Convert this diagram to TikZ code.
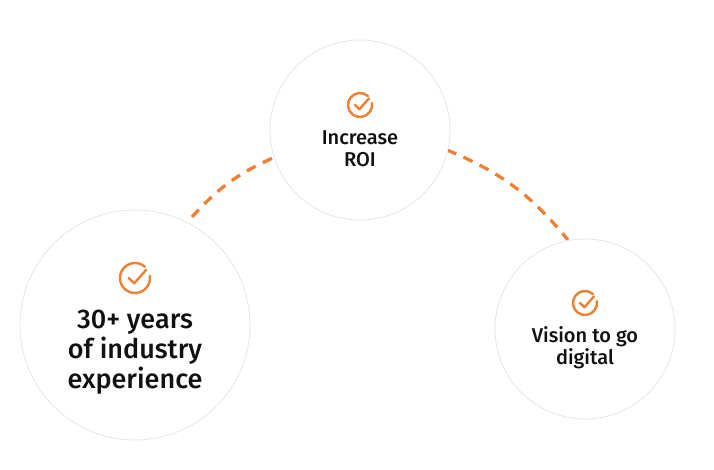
\documentclass[tikz,border=0pt]{standalone}
\usepackage{fontspec}
\setmainfont{Fira Sans}[UprightFont={* Medium}]
\usetikzlibrary{calc}
\definecolor{accent}{HTML}{EE8033}
\definecolor{ring}{HTML}{E6E6E6}
\definecolor{ink}{HTML}{111111}
\begin{document}
\begin{tikzpicture}[x=1pt, y=1pt,
    bubble/.style={circle, draw=ring, line width=0.8pt, fill=white, inner sep=0pt},
    label/.style={text=ink, align=center, font=#1},
    link/.style={draw=accent, line width=3.3pt, dash pattern=on 10pt off 8pt},
    tick/.style={draw=accent, line width=2.4pt, line cap=round, line join=round}]
\useasboundingbox (0,0) rectangle (714,470);

\coordinate (l1) at (192,253);
\coordinate (l2) at (275,313);
\coordinate (r1) at (447,320);
\coordinate (r2) at (568,230);
\path [link] (l1) to[bend left=12] (l2);
\path [link] (r1) to[bend left=14] (r2);

\node [bubble, minimum size=230pt] (years) at (135,145) {};
\node [bubble, minimum size=180pt] (roi) at (360,340) {};
\node [bubble, minimum size=180pt] (vision) at (585,141) {};

\newcommand{\checkicon}[2]{%
  \draw [tick] ($(#1)+(8.5:#2)$) arc (8.5:-311.5:#2);
  \draw [tick] ($(#1)+(-0.42*#2,0)$) -- ($(#1)+(-0.05*#2,-0.35*#2)$) -- ($(#1)+(0.75*#2,0.55*#2)$);}
\coordinate (iyears) at (135,192);
\coordinate (iroi) at (360,365);
\coordinate (ivision) at (585,167);
\checkicon{iyears}{15}
\checkicon{iroi}{12}
\checkicon{ivision}{12}

\node [label={\fontsize{27}{30}\selectfont}] (tyears) at (135,118) {30+ years\\of industry\\experience};
\node [label={\fontsize{20}{22}\selectfont}] (troi) at (360,321) {Increase\\ROI};
\node [label={\fontsize{20}{22}\selectfont}] (tvision) at (585,122) {Vision to go\\digital};
\end{tikzpicture}
\end{document}
